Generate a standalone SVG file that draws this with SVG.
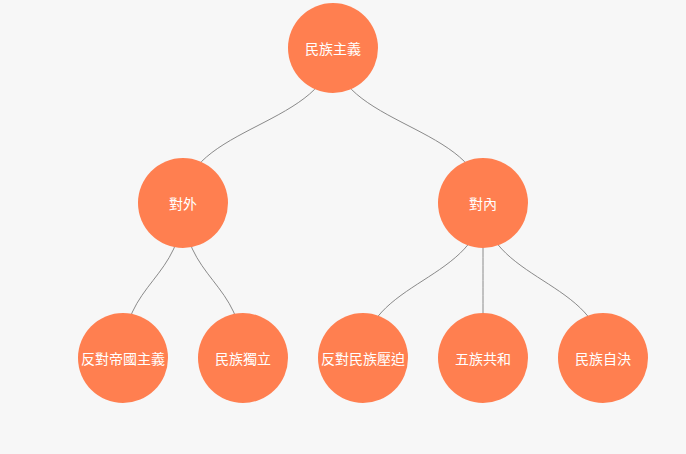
<svg xmlns="http://www.w3.org/2000/svg" width="686" height="454" viewBox="0 0 686 454">
<style>
.bg{fill:#f7f7f7}
.edge{fill:none;stroke:#8a8a8a;stroke-width:1}
.node circle{fill:#ff7f50}
.node text{fill:#ffffff;font-family:"Noto Sans CJK TC","Noto Sans CJK SC",sans-serif;font-size:14px;text-anchor:middle;dominant-baseline:central}
</style>
<rect class="bg" x="0" y="0" width="686" height="454"/>
<g id="connectors">
<path class="edge" d="M333,48 C333,125.5 183,125.5 183,203"/>
<path class="edge" d="M333,48 C333,125.5 483,125.5 483,203"/>
<path class="edge" d="M183,203 C183,280.5 123,280.5 123,358"/>
<path class="edge" d="M183,203 C183,280.5 243,280.5 243,358"/>
<path class="edge" d="M483,203 C483,280.5 363,280.5 363,358"/>
<path class="edge" d="M483,203 C483,280.5 483,280.5 483,358"/>
<path class="edge" d="M483,203 C483,280.5 603,280.5 603,358"/>
</g>
<g id="n-root" class="node"><circle cx="333" cy="48" r="45"/><text x="333" y="48">民族主義</text></g>
<g id="n-outer" class="node"><circle cx="183" cy="203" r="45"/><text x="183" y="203">對外</text></g>
<g id="n-inner" class="node"><circle cx="483" cy="203" r="45"/><text x="483" y="203">對內</text></g>
<g id="n-anti-imp" class="node"><circle cx="123" cy="358" r="45"/><text x="123" y="358">反對帝國主義</text></g>
<g id="n-indep" class="node"><circle cx="243" cy="358" r="45"/><text x="243" y="358">民族獨立</text></g>
<g id="n-anti-opp" class="node"><circle cx="363" cy="358" r="45"/><text x="363" y="358">反對民族壓迫</text></g>
<g id="n-five" class="node"><circle cx="483" cy="358" r="45"/><text x="483" y="358">五族共和</text></g>
<g id="n-self" class="node"><circle cx="603" cy="358" r="45"/><text x="603" y="358">民族自決</text></g>
</svg>
